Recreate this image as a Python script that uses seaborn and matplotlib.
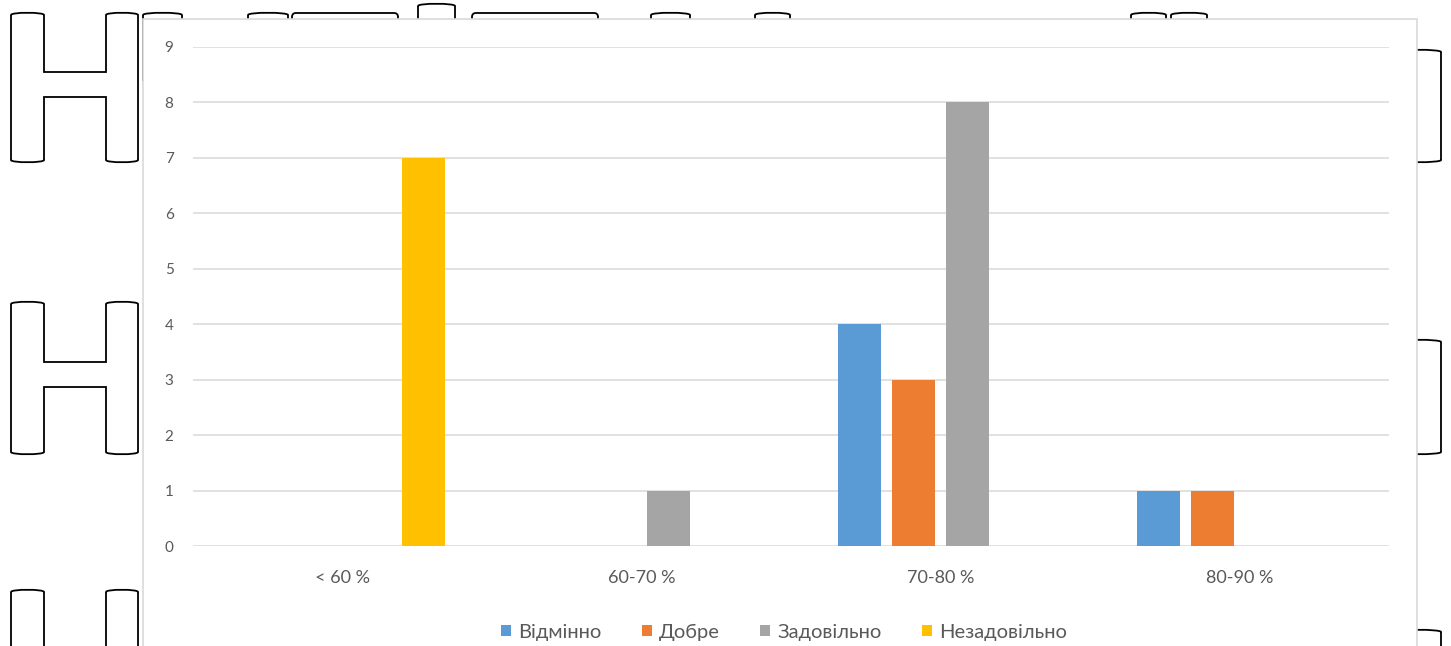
import numpy as np
import pandas as pd
import matplotlib
matplotlib.use("Agg")
import matplotlib.pyplot as plt
from matplotlib.path import Path
from matplotlib.patches import PathPatch, Rectangle, Patch
import seaborn as sns

# ---- data -------------------------------------------------------------
categories = ["< 60 %", "60-70 %", "70-80 %", "80-90 %"]
series_names = ["Відмінно", "Добре", "Задовільно", "Незадовільно"]
vidminno = [0, 0, 4, 1]
dobre = [0, 0, 3, 1]
zadovilno = [0, 1, 8, 0]
nezadovilno = [7, 0, 0, 0]
y_ticks = [0, 1, 2, 3, 4, 5, 6, 7, 8, 9]

colors = ["#5B9BD5", "#ED7D31", "#A5A5A5", "#FFC000"]

df = pd.DataFrame({
    "category": categories * 4,
    "series": sum([[s] * len(categories) for s in series_names], []),
    "value": vidminno + dobre + zadovilno + nezadovilno,
})

sns.set_theme(style="white")
plt.rcParams["font.family"] = ["Lato", "DejaVu Sans"]

W, H = 1451, 646
fig = plt.figure(figsize=(W / 100, H / 100), dpi=100)

# ---- page decoration behind the chart (pixel coordinates) -------------
bg = fig.add_axes([0, 0, 1, 1], zorder=0)
bg.set_xlim(0, W)
bg.set_ylim(H, 0)
bg.axis("off")


def capped_outline(pts_caps):
    """Build a closed path; segments flagged 'top'/'bot' become gently arched."""
    verts, codes = [], []
    for i, (p, cap) in enumerate(pts_caps):
        if i == 0:
            verts.append(p)
            codes.append(Path.MOVETO)
            continue
        prev = pts_caps[i - 1][0]
        if cap:
            d = -3 if cap == "top" else 3
            verts += [(prev[0], prev[1] + d), (p[0], p[1] + d), p]
            codes += [Path.CURVE4] * 3
        else:
            verts.append(p)
            codes.append(Path.LINETO)
    return Path(verts, codes)


def h_letter(x0, x1, x2, x3, ytop, ybot, cb_top, cb_bot):
    pts = [
        ((x0, ytop), None),
        ((x1, ytop), "top"),
        ((x1, cb_top), None),
        ((x2, cb_top), None),
        ((x2, ytop), None),
        ((x3, ytop), "top"),
        ((x3, ybot), None),
        ((x2, ybot), "bot"),
        ((x2, cb_bot), None),
        ((x1, cb_bot), None),
        ((x1, ybot), None),
        ((x0, ybot), "bot"),
        ((x0, ytop), None),
    ]
    return capped_outline(pts)


def stem(x0, x1, ytop, ybot, top="top", bot="bot"):
    pts = [
        ((x0, ytop), None),
        ((x1, ytop), top),
        ((x1, ybot), None),
        ((x0, ybot), bot),
        ((x0, ytop), None),
    ]
    return capped_outline(pts)


def flat_bar(x0, x1, ytop, ybot, r=4):
    verts = [(x0, ybot), (x0, ytop + r), (x0, ytop), (x0 + r, ytop),
             (x1 - r, ytop), (x1, ytop), (x1, ytop + r), (x1, ybot)]
    codes = [Path.MOVETO, Path.LINETO, Path.CURVE3, Path.CURVE3,
             Path.LINETO, Path.CURVE3, Path.CURVE3, Path.LINETO]
    return Path(verts, codes)


outline_kw = dict(facecolor="none", edgecolor="black", lw=1.3, zorder=1)
shapes = [
    h_letter(11, 44, 106, 138, 15, 160, 72, 97),
    h_letter(11, 44, 106, 138, 304, 452, 362, 387),
    stem(11, 44, 592, 700),
    stem(106, 138, 592, 700),
    stem(1395, 1441, 52, 160),
    stem(1395, 1441, 342, 452),
    stem(1395, 1441, 632, 740),
    stem(143, 182, 15, 80),
    stem(248, 288, 15, 80),
    flat_bar(292, 398, 13, 80),
    stem(418, 455, 6, 80),
    flat_bar(472, 598, 13, 80),
    stem(651, 690, 15, 80),
    stem(755, 790, 15, 80),
    stem(1131, 1166, 15, 80),
    stem(1171, 1207, 15, 80),
]
for p in shapes:
    bg.add_patch(PathPatch(p, **outline_kw))

# white chart area with a light border
bg.add_patch(Rectangle((143, 19), 1417 - 143, 700, facecolor="white",
                       edgecolor="#D9D9D9", lw=1.2, zorder=2))

# ---- the chart itself -------------------------------------------------
left, right = 193 / W, 1389 / W
bottom, top = 1 - 546 / H, 1 - 47 / H
ax = fig.add_axes([left, bottom, right - left, top - bottom], zorder=1)
ax.set_facecolor("none")

sns.barplot(data=df, x="category", y="value", hue="series",
            hue_order=series_names, order=categories, palette=colors,
            width=0.725, gap=0.2, linewidth=0, saturation=1,
            legend=False, ax=ax)

ax.set_xlim(-0.5, len(categories) - 0.5)
ax.set_ylim(0, 9)
ax.set_yticks(y_ticks)
ax.set_yticklabels([str(t) for t in y_ticks])
ax.set_xlabel("")
ax.set_ylabel("")
ax.yaxis.grid(True, color="#D9D9D9", lw=1.1)
ax.set_axisbelow(True)
for s in ax.spines.values():
    s.set_visible(False)
ax.tick_params(axis="y", length=0, pad=14, labelsize=11, labelcolor="#595959")
ax.tick_params(axis="x", length=0, pad=17, labelsize=13, labelcolor="#595959")

handles = [Patch(facecolor=c, edgecolor="none") for c in colors]
fig.legend(handles, series_names, loc="center", bbox_to_anchor=(784 / W, 1 - 632 / H),
           ncol=4, frameon=False, fontsize=14.5, labelcolor="#595959",
           handlelength=0.5, handleheight=0.5, handletextpad=0.35,
           columnspacing=2.0)

fig.savefig("out.png", dpi=100)
